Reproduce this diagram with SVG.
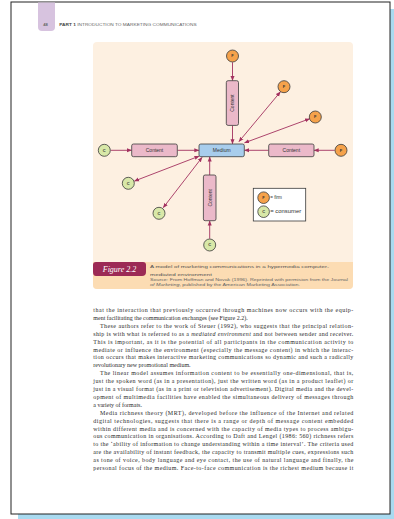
<svg xmlns="http://www.w3.org/2000/svg" width="394" height="519" viewBox="0 0 394 519">
<defs>
<marker id="ah" viewBox="0 0 10 10" refX="9" refY="5" markerWidth="5" markerHeight="5" orient="auto-start-reverse" markerUnits="userSpaceOnUse">
<path d="M0,1 L10,5 L0,9 z" fill="#a3315f"/>
</marker>
<style>
.con{stroke:#a3315f;stroke-width:0.9;fill:none;marker-end:url(#ah)}
.dbl{marker-start:url(#ah)}
.box{fill:#ebb9c9;stroke:#3a3a3a;stroke-width:0.8}
.med{fill:#a8cdec;stroke:#3a3a3a;stroke-width:0.8}
.f{fill:#f5a24b;stroke:#3a3a3a;stroke-width:0.8}
.c{fill:#d8e8a8;stroke:#3a3a3a;stroke-width:0.8}
.lbl{font-family:"Liberation Sans",Arial,sans-serif;font-size:5px;fill:#333;text-anchor:middle}
.leg{font-family:"Liberation Sans",Arial,sans-serif;font-size:4.6px;fill:#333}
.cl{font-family:"Liberation Sans",Arial,sans-serif;font-size:4px;fill:#333;text-anchor:middle;font-weight:bold}
.body{font-family:"Liberation Serif","Times New Roman",serif;font-size:6px;fill:#2b2b2b}
.cap{font-family:"Liberation Sans",Arial,sans-serif;font-size:4.3px;fill:#555}
.src{font-family:"Liberation Sans",Arial,sans-serif;font-size:3.7px;fill:#666}
.hdr{font-family:"Liberation Sans",Arial,sans-serif;font-size:4.1px;fill:#666}
</style>
</defs>
<!-- page -->
<rect x="18" y="9" width="376" height="510" fill="#a9daf0"/>
<rect x="11" y="2" width="379" height="512" fill="#ffffff" stroke="#222" stroke-width="1"/>
<path d="M38,2.5 H55 V27 Q55,31 51,31 H42 Q38,31 38,27 Z" fill="#d7c3df"/>
<text class="hdr" x="45.5" y="25.5" text-anchor="middle" font-weight="bold">48</text>
<text class="hdr" x="59.3" y="25.5" textLength="137.4" lengthAdjust="spacingAndGlyphs"><tspan font-weight="bold" fill="#444">PART 1</tspan> INTRODUCTION TO MARKETING COMMUNICATIONS</text>
<!-- panel -->
<rect x="93" y="42" width="260" height="247" rx="4" fill="#fdf0e1"/>
<path d="M93,262 H353 V285 Q353,289 349,289 H97 Q93,289 93,285 Z" fill="#fcdcb3"/>
<path d="M96,262 H143 Q146,262 146,265 V272 Q146,276 142,276 H96 Q93,276 93,272 V265 Q93,262 96,262 Z" fill="#9c2a55"/>
<text x="119.5" y="272.3" text-anchor="middle" font-family="'Liberation Serif',serif" font-style="italic" font-size="8" fill="#fff">Figure 2.2</text>
<text class="cap" x="150" y="268.3" textLength="179" lengthAdjust="spacingAndGlyphs">A model of marketing communications in a hypermedia computer-</text>
<text class="cap" x="150" y="275.5" textLength="62" lengthAdjust="spacingAndGlyphs">mediated environment</text>
<text class="src" x="150" y="281.3" textLength="198" lengthAdjust="spacingAndGlyphs">Source: From Hoffman and Novak (1996). Reprinted with permision from the Journal</text>
<text class="src" x="150" y="286" textLength="150" lengthAdjust="spacingAndGlyphs"><tspan font-style="italic">of Marketing</tspan>, published by the American Marketing Association.</text>
<!-- connectors -->
<g id="connectors">
<line class="con" x1="232.5" y1="62.3" x2="232.5" y2="80.5"/>
<line class="con" x1="232.5" y1="125.5" x2="232.5" y2="143.8"/>
<line class="con dbl" x1="239" y1="141.5" x2="280.3" y2="92"/>
<line class="con dbl" x1="244.6" y1="142.8" x2="309.5" y2="118.8"/>
<line class="con" x1="110.6" y1="150.3" x2="131.5" y2="150.3"/>
<line class="con" x1="177.5" y1="150.3" x2="198.8" y2="150.3"/>
<line class="con" x1="334.7" y1="150.3" x2="314.2" y2="150.3"/>
<line class="con" x1="268.5" y1="150.3" x2="244.6" y2="150.3"/>
<line class="con dbl" x1="199" y1="156.2" x2="134.5" y2="181"/>
<line class="con dbl" x1="202" y1="157.5" x2="163.3" y2="207.6"/>
<line class="con" x1="209.7" y1="238.7" x2="209.7" y2="221"/>
<line class="con" x1="209.7" y1="175" x2="209.7" y2="157"/>
</g>
<!-- nodes -->
<g id="f-top"><circle class="f" cx="232.5" cy="56" r="6"/><text class="cl" x="232.5" y="57.4">F</text></g>
<g id="content-top"><rect class="box" x="226.3" y="80.7" width="12.2" height="44.7" rx="1.8"/><text class="lbl" transform="translate(234.2,103) rotate(-90)">Content</text></g>
<g id="f-upper-right"><circle class="f" cx="284" cy="86.7" r="6"/><text class="cl" x="284" y="88.1">F</text></g>
<g id="f-right-upper"><circle class="f" cx="315.3" cy="117" r="6"/><text class="cl" x="315.3" y="118.4">F</text></g>
<g id="medium"><rect class="med" x="199" y="144" width="45.3" height="12.7" rx="1.8"/><text class="lbl" x="221.7" y="152">Medium</text></g>
<g id="content-left"><rect class="box" x="131.7" y="144" width="45.6" height="12.7" rx="1.8"/><text class="lbl" x="154.5" y="152">Content</text></g>
<g id="content-right"><rect class="box" x="268.7" y="144" width="45.3" height="12.7" rx="1.8"/><text class="lbl" x="291.3" y="152">Content</text></g>
<g id="c-left"><circle class="c" cx="104.3" cy="150.3" r="6"/><text class="cl" x="104.3" y="151.7">C</text></g>
<g id="f-right"><circle class="f" cx="341" cy="150.3" r="6"/><text class="cl" x="341" y="151.7">F</text></g>
<g id="c-lower-left"><circle class="c" cx="128.3" cy="183.3" r="6"/><text class="cl" x="128.3" y="184.7">C</text></g>
<g id="c-lower"><circle class="c" cx="159" cy="213.3" r="6"/><text class="cl" x="159" y="214.7">C</text></g>
<g id="content-bottom"><rect class="box" x="203.4" y="175" width="12.6" height="45.7" rx="1.8"/><text class="lbl" transform="translate(211.5,197.8) rotate(-90)">Content</text></g>
<g id="c-bottom"><circle class="c" cx="209.7" cy="245" r="6"/><text class="cl" x="209.7" y="246.4">C</text></g>
<g id="legend">
<rect x="253.3" y="188.3" width="52.4" height="32.7" fill="#fff" stroke="#3a3a3a" stroke-width="0.8"/>
<circle class="f" cx="263.6" cy="197.7" r="5.8"/><text class="cl" x="263.6" y="199.1">F</text>
<text class="leg" x="270.2" y="199.4">= firm</text>
<circle class="c" cx="263.6" cy="211.7" r="5.8"/><text class="cl" x="263.6" y="213.1">C</text>
<text class="leg" x="270.2" y="213.4" textLength="31" lengthAdjust="spacingAndGlyphs">= consumer</text>
</g>
<!-- body text -->
<g class="body">
<text x="93.3" y="312" textLength="260" lengthAdjust="spacing">that the interaction that previously occurred through machines now occurs with the equip-</text>
<text x="93.3" y="319.9">ment facilitating the communication exchanges (see Figure 2.2).</text>
<text x="100" y="327.8" textLength="253.3" lengthAdjust="spacing">These authors refer to the work of Steuer (1992), who suggests that the principal relation-</text>
<text x="93.3" y="335.7" textLength="260" lengthAdjust="spacing">ship is with what is referred to as a <tspan font-style="italic">mediated environment</tspan> and not between sender and receiver.</text>
<text x="93.3" y="343.6" textLength="260" lengthAdjust="spacing">This is important, as it is the potential of all participants in the communication activity to</text>
<text x="93.3" y="351.5" textLength="260" lengthAdjust="spacing">mediate or influence the environment (especially the message content) in which the interac-</text>
<text x="93.3" y="359.4" textLength="260" lengthAdjust="spacing">tion occurs that makes interactive marketing communications so dynamic and such a radically</text>
<text x="93.3" y="367.3">revolutionary new promotional medium.</text>
<text x="100" y="375.2" textLength="253.3" lengthAdjust="spacing">The linear model assumes information content to be essentially one-dimensional, that is,</text>
<text x="93.3" y="383.1" textLength="260" lengthAdjust="spacing">just the spoken word (as in a presentation), just the written word (as in a product leaflet) or</text>
<text x="93.3" y="391" textLength="260" lengthAdjust="spacing">just in a visual format (as in a print or television advertisement). Digital media and the devel-</text>
<text x="93.3" y="398.9" textLength="260" lengthAdjust="spacing">opment of multimedia facilities have enabled the simultaneous delivery of messages through</text>
<text x="93.3" y="406.8">a variety of formats.</text>
<text x="100" y="414.7" textLength="253.3" lengthAdjust="spacing">Media richness theory (MRT), developed before the influence of the Internet and related</text>
<text x="93.3" y="422.6" textLength="260" lengthAdjust="spacing">digital technologies, suggests that there is a range or depth of message content embedded</text>
<text x="93.3" y="430.5" textLength="260" lengthAdjust="spacing">within different media and is concerned with the capacity of media types to process ambigu-</text>
<text x="93.3" y="438.4" textLength="260" lengthAdjust="spacing">ous communication in organisations. According to Daft and Lengel (1986: 560) richness refers</text>
<text x="93.3" y="446.3" textLength="260" lengthAdjust="spacing">to the ‘ability of information to change understanding within a time interval’. The criteria used</text>
<text x="93.3" y="454.2" textLength="260" lengthAdjust="spacing">are the availability of instant feedback, the capacity to transmit multiple cues, expressions such</text>
<text x="93.3" y="462.1" textLength="260" lengthAdjust="spacing">as tone of voice, body language and eye contact, the use of natural language and finally, the</text>
<text x="93.3" y="470" textLength="260" lengthAdjust="spacing">personal focus of the medium. Face-to-face communication is the richest medium because it</text>
</g>
</svg>
